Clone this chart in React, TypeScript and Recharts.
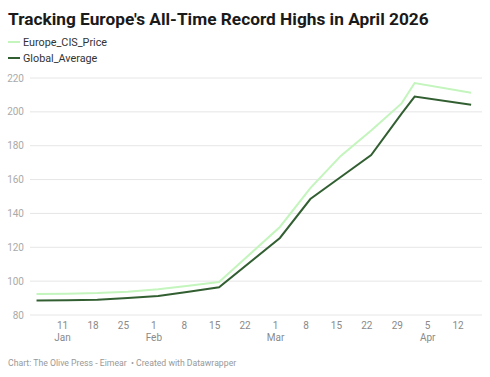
import React from "react";
import { LineChart, Line, XAxis, YAxis, CartesianGrid } from "recharts";

const dates = [
  "2026-01-05", "2026-01-12", "2026-01-19", "2026-01-26", "2026-02-02", "2026-02-09",
  "2026-02-16", "2026-03-02", "2026-03-09", "2026-03-16", "2026-03-23", "2026-03-30",
  "2026-04-02", "2026-04-15",
];
const europeCisPrice = [92.4, 92.6, 93.0, 93.8, 95.2, 97.3, 99.5, 132, 155, 174, 189, 205, 217, 211.3];
const globalAverage = [88.5, 88.7, 89.0, 90.0, 91.2, 93.8, 96.4, 125.5, 148.5, 161.5, 174.5, 199, 209, 204.2];

const tickDates = [
  "2026-01-11", "2026-01-18", "2026-01-25", "2026-02-01", "2026-02-08", "2026-02-15", "2026-02-22",
  "2026-03-01", "2026-03-08", "2026-03-15", "2026-03-22", "2026-03-29", "2026-04-05", "2026-04-12",
];
const monthLabels: Record<string, string> = {
  "2026-01-11": "Jan",
  "2026-02-01": "Feb",
  "2026-03-01": "Mar",
  "2026-04-05": "Apr",
};
const yTicks = [80, 100, 120, 140, 160, 180, 200, 220];
const xDomain = ["2026-01-03T12:00:00Z", "2026-04-17T12:00:00Z"];

const DAY = 86400000;
const toDay = (s: string) => (Date.parse(s.length > 10 ? s : s + "T00:00:00Z") - Date.UTC(2026, 0, 1)) / DAY + 1;

const data = dates.map((d, i) => ({
  day: toDay(d),
  Europe_CIS_Price: europeCisPrice[i],
  Global_Average: globalAverage[i],
}));
const tickDays = tickDates.map(toDay);
const dayToLabel: Record<number, string> = {};
tickDates.forEach((d) => (dayToLabel[toDay(d)] = d));

const LIGHT = "#c3f5bd";
const DARK = "#325f32";
const FONT = "Roboto, 'Noto Sans', sans-serif";

const XTick = (props: any) => {
  const { x, y, payload } = props;
  const iso = dayToLabel[payload.value];
  const dom = iso ? String(Number(iso.slice(8, 10))) : "";
  const month = iso ? monthLabels[iso] : undefined;
  return (
    <g>
      <text x={x} y={y} dy="0.71em" textAnchor="middle" fill="#8a8a8a" fontSize={10} fontFamily={FONT}>
        {dom}
      </text>
      {month && (
        <text x={x} y={y + 12} dy="0.71em" textAnchor="middle" fill="#8a8a8a" fontSize={10} fontFamily={FONT}>
          {month}
        </text>
      )}
    </g>
  );
};

export default function App() {
  return (
    <div
      style={{
        position: "absolute",
        left: 0,
        top: 0,
        width: 490,
        height: 377,
        background: "#fff",
        fontFamily: FONT,
        overflow: "hidden",
      }}
    >
      <div
        style={{
          position: "absolute",
          left: 8,
          top: 8,
          fontSize: 17.3,
          lineHeight: "22px",
          fontWeight: 700,
          color: "#1a1a1a",
          whiteSpace: "nowrap",
        }}
      >
        Tracking Europe's All-Time Record Highs in April 2026
      </div>
      {[
        { label: "Europe_CIS_Price", color: LIGHT, top: 34 },
        { label: "Global_Average", color: DARK, top: 50 },
      ].map((l) => (
        <div
          key={l.label}
          style={{
            position: "absolute",
            left: 8,
            top: l.top,
            height: 16,
            display: "flex",
            alignItems: "center",
            fontSize: 10.8,
            color: "#333",
            whiteSpace: "nowrap",
          }}
        >
          <span style={{ display: "inline-block", width: 12, height: 2, background: l.color, marginRight: 3 }} />
          {l.label}
        </div>
      ))}
      <div style={{ position: "absolute", left: 0, top: 0 }}>
        <LineChart width={490} height={377} data={data} margin={{ top: 78, right: 8, bottom: 0, left: 8 }}>
          <CartesianGrid horizontal vertical={false} stroke="#e6e6e6" />
          <XAxis
            dataKey="day"
            type="number"
            domain={[toDay(xDomain[0]), toDay(xDomain[1])]}
            ticks={tickDays}
            interval={0}
            axisLine={false}
            tickLine={false}
            tickSize={4}
            tickMargin={3}
            height={62}
            tick={<XTick />}
            allowDataOverflow
          />
          <YAxis
            type="number"
            domain={[80, 220]}
            ticks={yTicks}
            interval={0}
            axisLine={false}
            tickLine={false}
            width={22}
            tickSize={6}
            tickMargin={0}
            tick={{ fill: "#aaa", fontSize: 10, fontFamily: FONT }}
          />
          <Line
            type="linear"
            dataKey="Europe_CIS_Price"
            stroke={LIGHT}
            strokeWidth={2}
            dot={false}
            activeDot={false}
            isAnimationActive={false}
          />
          <Line
            type="linear"
            dataKey="Global_Average"
            stroke={DARK}
            strokeWidth={2}
            dot={false}
            activeDot={false}
            isAnimationActive={false}
          />
        </LineChart>
      </div>
      <div
        style={{
          position: "absolute",
          left: 8,
          top: 357,
          fontSize: 8.7,
          lineHeight: "12px",
          color: "#999",
          whiteSpace: "nowrap",
        }}
      >
        Chart: The Olive Press - Eimear {"\u00a0"}• Created with Datawrapper
      </div>
    </div>
  );
}
